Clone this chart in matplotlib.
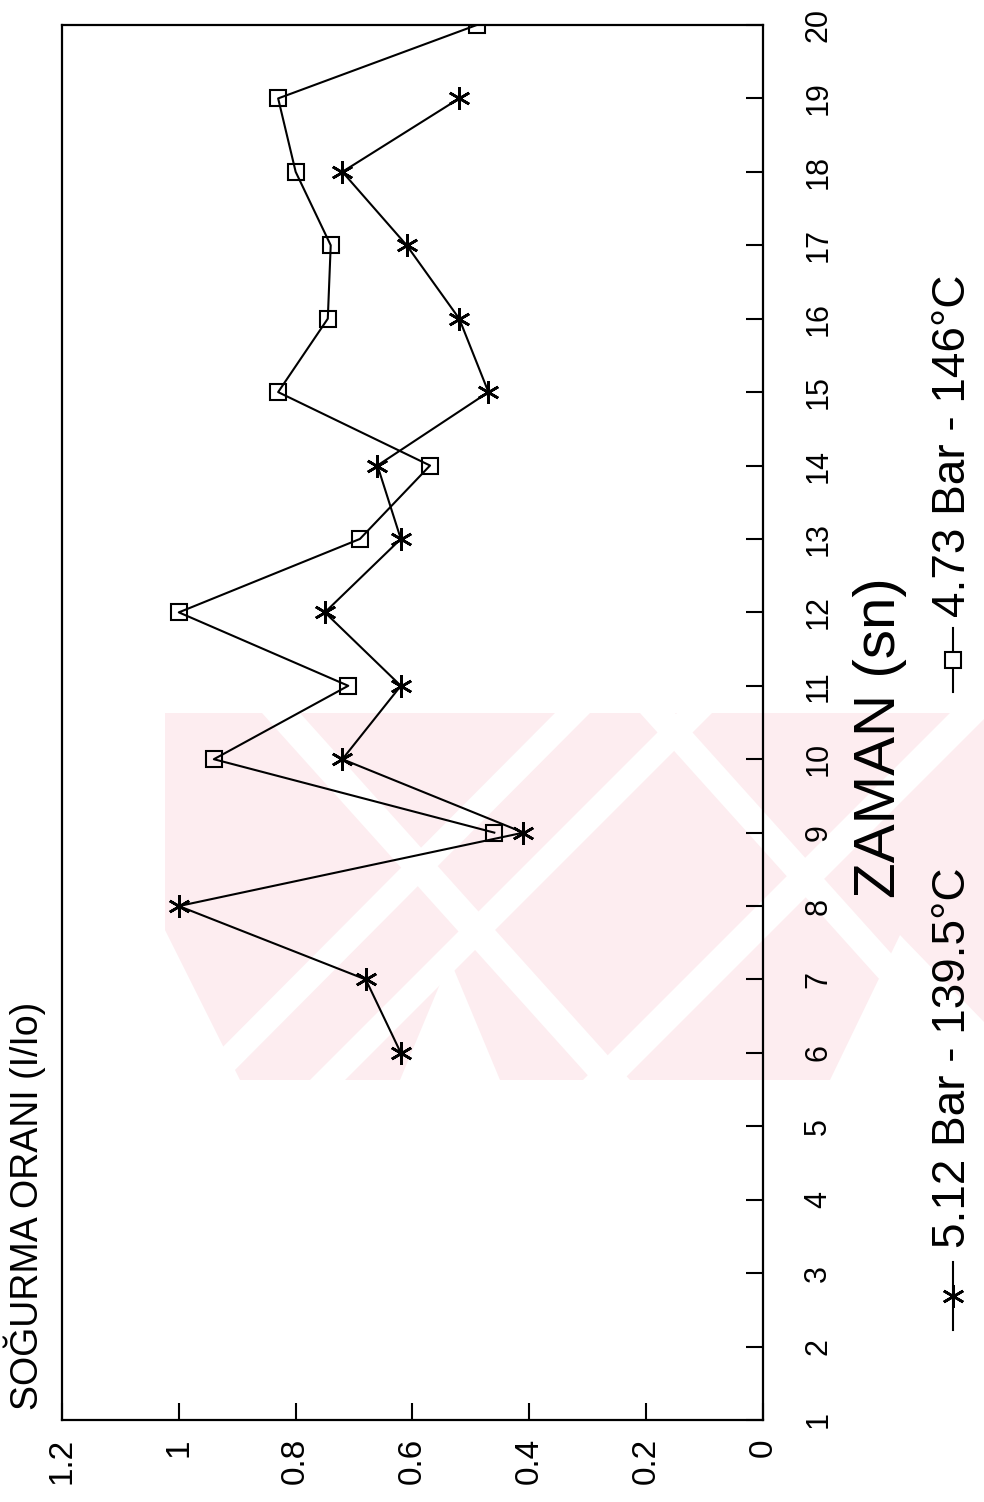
import matplotlib
matplotlib.use("Agg")
import matplotlib.pyplot as plt
from matplotlib.patches import Polygon, Rectangle

plt.rcParams["font.family"] = ["Liberation Sans", "DejaVu Sans"]

# ── veri ──────────────────────────────────────────────
zaman_yildiz = [6, 7, 8, 9, 10, 11, 12, 13, 14, 15, 16, 17, 18, 19]
oran_yildiz = [0.62, 0.68, 1.00, 0.41, 0.72, 0.62, 0.75, 0.62, 0.66, 0.47, 0.52, 0.61, 0.72, 0.52]

zaman_kare = [9, 10, 11, 12, 13, 14, 15, 16, 17, 18, 19, 20]
oran_kare = [0.46, 0.94, 0.71, 1.00, 0.69, 0.57, 0.83, 0.745, 0.74, 0.80, 0.83, 0.49]

zaman_ticks = list(range(1, 21))
oran_ticks = [0, 0.2, 0.4, 0.6, 0.8, 1.0, 1.2]
oran_tick_labels = ["0", "0.2", "0.4", "0.6", "0.8", "1", "1.2"]

etiket_yildiz = "5.12 Bar - 139.5°C"
etiket_kare = "4.73 Bar - 146°C"

W, H = 984, 1502
fig = plt.figure(figsize=(W / 100, H / 100), dpi=100)

# arka plan (piksel koordinatlari) - soluk pembe filigran + lejant
bg = fig.add_axes([0, 0, 1, 1], zorder=0)
bg.set_xlim(0, W)
bg.set_ylim(H, 0)
bg.axis("off")

wy0, wy1 = 713, 1080
clip = Rectangle((165, wy0), W - 165, wy1 - wy0, transform=bg.transData)
pembe = "#fdedf0"


def sekil(pts, color):
    p = Polygon(pts, closed=True, color=color, lw=0, zorder=1)
    bg.add_patch(p)
    p.set_clip_path(clip)


def serit(top, bottom):
    sekil([(top[0], wy0), (top[1], wy0), (bottom[1], wy1), (bottom[0], wy1)], "white")


sekil([(165, wy0), (W, wy0), (W, wy1), (165, wy1)], pembe)
# "\" seritler
serit((262, 300), (592, 630))
serit((640, 675), (970, 1005))
# "/" seritler
serit((555, 590), (190, 225))
serit((677, 712), (310, 345))
serit((950, 990), (583, 623))
# alt ucgen bosluklar
sekil([(150, 900), (150, wy1), (240, wy1)], "white")
sekil([(400, wy1), (450, 960), (500, wy1)], "white")
sekil([(830, wy1), (900, 935), (1040, wy1)], "white")

# ── ana grafik (90 derece dondurulmus) ─────────────────
ax = fig.add_axes([62 / W, 1 - 1420 / H, (763 - 62) / W, (1420 - 25) / H], zorder=1)
ax.patch.set_alpha(0)

ax.plot(oran_yildiz, zaman_yildiz, color="black", lw=1.5,
        marker=(6, 2, 0), ms=16, mew=1.9)
ax.plot(oran_kare, zaman_kare, color="black", lw=1.5,
        marker="s", ms=12, mfc="none", mec="black", mew=1.5)

ax.set_xlim(1.2, 0)
ax.set_ylim(1, 20)
ax.yaxis.tick_right()
ax.set_xticks(oran_ticks)
ax.set_xticklabels(oran_tick_labels, rotation=90)
ax.set_yticks(zaman_ticks)
ax.set_yticklabels([str(t) for t in zaman_ticks], rotation=90, va="center")
ax.tick_params(direction="in", length=12, width=1.5)
ax.tick_params(axis="x", pad=13, labelsize=24)
ax.tick_params(axis="y", pad=29, labelsize=22)
for s in ax.spines.values():
    s.set_linewidth(1.6)

fig.text(25 / W, 1 - 1410 / H, "SOĞURMA ORANI (I/Io)", rotation=90,
         ha="center", va="bottom", fontsize=27)
fig.text(880 / W, 1 - 738 / H, "ZAMAN (sn)", rotation=90,
         ha="center", va="center", fontsize=42)

# ── lejant ────────────────────────────────────────────
lx = 953
bg.plot([lx, lx], [1330, 1262], color="black", lw=1.5, zorder=3)
bg.plot([lx], [1296], marker=(6, 2, 0), ms=16, mew=1.9, color="black", zorder=3)
bg.text(lx, 1248, etiket_yildiz, rotation=90, ha="center", va="bottom", fontsize=33, zorder=3)

bg.plot([lx, lx], [692, 628], color="black", lw=1.5, zorder=3)
bg.plot([lx], [660], marker="s", ms=12, mfc="white", mec="black", mew=1.5, zorder=3)
bg.text(lx, 617, etiket_kare, rotation=90, ha="center", va="bottom", fontsize=33, zorder=3)

fig.savefig("out.png", dpi=100)
